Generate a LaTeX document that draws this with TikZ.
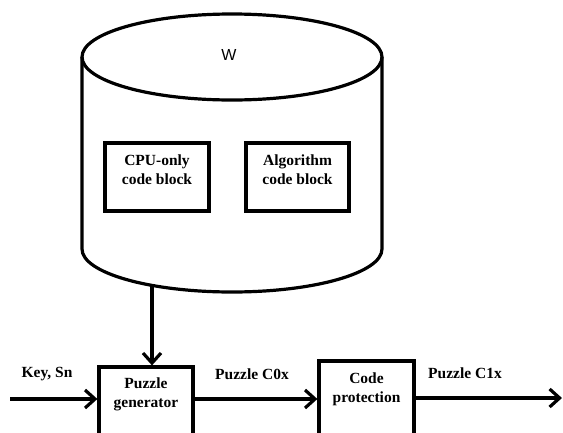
\documentclass[tikz,border=0pt]{standalone}
\usepackage{fontspec}
\setmainfont{Liberation Serif}
\newfontfamily\wfont{Liberation Sans}
\usetikzlibrary{arrows.meta}
\begin{document}
\begin{tikzpicture}[x=1pt,y=-1pt,
  lw/.style={line width=3.2pt},
  blk/.style={draw,lw,rectangle,inner sep=0pt},
  txt/.style={font=\fontsize{15.5}{19}\selectfont\bfseries,align=center,inner sep=0pt},
  arr/.style={lw,-{Straight Barb[length=10pt,width=18pt]}}]
\useasboundingbox (0,0) rectangle (563,432);
\clip (0,0) rectangle (563,432);
% cylinder
\draw[lw] (82,57) -- (82,249) arc[start angle=180,end angle=360,x radius=150,y radius=-43] -- (382,57);
\draw[lw] (232,57) ellipse[x radius=150,y radius=43];
\node[font=\wfont\fontsize{16}{18}\selectfont,inner sep=0pt] (w) at (229,55) {W};
% inner boxes
\node[blk,minimum width=104pt,minimum height=68pt] (cpu) at (157,177) {};
\node[txt] (cput) at (157,170) {CPU-only\\code block};
\node[blk,minimum width=103pt,minimum height=68pt] (alg) at (297.5,177) {};
\node[txt] (algt) at (297.5,170) {Algorithm\\code block};
% bottom boxes
\node[blk,minimum width=94pt,minimum height=90pt] (pg) at (146,412) {};
\node[txt] (pgt) at (146,394.5) {Puzzle\\generator};
\node[blk,minimum width=95pt,minimum height=90pt] (cp) at (366.5,406) {};
\node[txt] (cpt) at (366.5,389) {Code\\protection};
% connectors
\coordinate (cylb) at (152,286);
\coordinate (in) at (10,399);
\coordinate (out) at (562,398);
\draw[arr] (cylb) -- (cylb |- pg.north);
\draw[arr] (in) -- (in -| pg.west);
\draw[arr] (pg.east |- in) -- (cp.west |- in);
\draw[arr] (cp.east |- out) -- (out);
% labels
\node[txt] (l1) at (47,374) {Key, Sn};
\node[txt] (l2) at (252,374) {Puzzle C0x};
\node[txt] (l3) at (465,373) {Puzzle C1x};
\end{tikzpicture}
\end{document}
